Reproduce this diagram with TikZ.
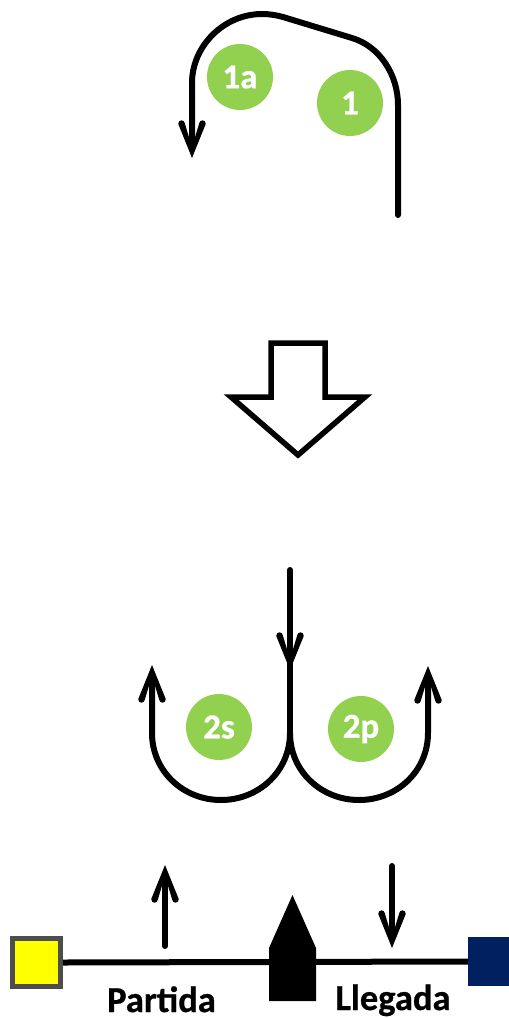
\documentclass[tikz,border=0pt]{standalone}
\usepackage{fontspec}
\setmainfont[BoldFeatures={FakeBold=0.7}]{Carlito}
\definecolor{stepgreen}{HTML}{92D050}
\definecolor{navy}{HTML}{002060}
\definecolor{edgegray}{HTML}{4D4D4D}
\definecolor{pureyellow}{HTML}{FFFF00}
\tikzset{
  x=1pt,y=-1pt,
  badge/.style={circle,fill=stepgreen,minimum size=66pt,inner sep=0pt,text=white,font=\fontsize{35}{35}\selectfont\bfseries},
  curve/.style={line width=6pt,line cap=round,line join=round},
  caption/.style={font=\fontsize{36.5}{36.5}\selectfont\bfseries,text=black,inner sep=0pt,anchor=base},
  barbhead/.pic={
    \fill[black] (0,0) -- (-33.57,13.56) -- (-35.43,7.44) -- (-20.8,3) -- (-20.8,-3)
      -- (-35.43,-7.44) -- (-33.57,-13.56) -- cycle;
    \fill[black] (-34.5,10.5) circle[radius=3.2pt] (-34.5,-10.5) circle[radius=3.2pt];
  },
}
\begin{document}
\begin{tikzpicture}
\useasboundingbox (0,0) rectangle (509,1018);
% top curve
\coordinate (s1) at (398,215);
\coordinate (e1) at (192,158);
\draw[curve,shorten >=15pt] (s1) -- (398,105) .. controls (398,74) and (379,46) .. (352,38)
  -- (283,17) .. controls (276,15) and (269,14) .. (262,14)
  .. controls (224,14) and (192,46) .. (192,83) -- (e1);
\pic[rotate=-90] at (e1) {barbhead};
\node[badge] (n1a) at (240,77) {1a};
\node[badge] (n1) at (350,103) {1};
% block arrow
\draw[line width=5.5pt,miter limit=10,fill=white] (271,343) -- (325,343) -- (325,397) -- (365,397) -- (298,455) -- (231,397) -- (271,397) -- cycle;
% split
\coordinate (top) at (290,570);
\coordinate (mid) at (290,670);
\coordinate (fork) at (290,733);
\coordinate (leftend) at (152,665);
\coordinate (rightend) at (428,666);
\draw[curve] (top) -- (mid);
\pic[rotate=-90] at (mid) {barbhead};
\draw[curve] (mid) -- (fork);
\draw[curve,shorten >=15pt] (fork) .. controls (290,771) and (259,800) .. (221,800)
  .. controls (183,800) and (152,771) .. (152,733) -- (leftend);
\pic[rotate=90] at (leftend) {barbhead};
\draw[curve,shorten >=15pt] (fork) .. controls (290,771) and (321,800) .. (359,800)
  .. controls (397,800) and (428,771) .. (428,733) -- (rightend);
\pic[rotate=90] at (rightend) {barbhead};
\node[badge] (n2s) at (219,727) {2s};
\node[badge] (n2p) at (361,729) {2p};
% strand
\node[draw=edgegray,line width=5pt,fill=pureyellow,minimum size=48pt,inner sep=0pt] (yel) at (36.5,962.5) {};
\node[fill=navy,minimum width=42pt,minimum height=49pt,inner sep=0pt] (blu) at (489,961.5) {};
\draw[line width=6pt] (yel.east) -- (blu.west);
\fill[black] (269,948) -- (292.5,895) -- (316,948) -- (316,1001) -- (269,1001) -- cycle;
\coordinate (ua) at (165,946);
\coordinate (ub) at (165,865);
\coordinate (da) at (392,866);
\coordinate (db) at (392,948);
\draw[curve,shorten >=15pt] (ua) -- (ub);
\pic[rotate=90] at (ub) {barbhead};
\draw[curve,shorten >=15pt] (da) -- (db);
\pic[rotate=-90] at (db) {barbhead};
\node[caption] (part) at (161.5,1012) {Partida};
\node[caption] (lleg) at (393,1010) {Llegada};
\end{tikzpicture}
\end{document}
